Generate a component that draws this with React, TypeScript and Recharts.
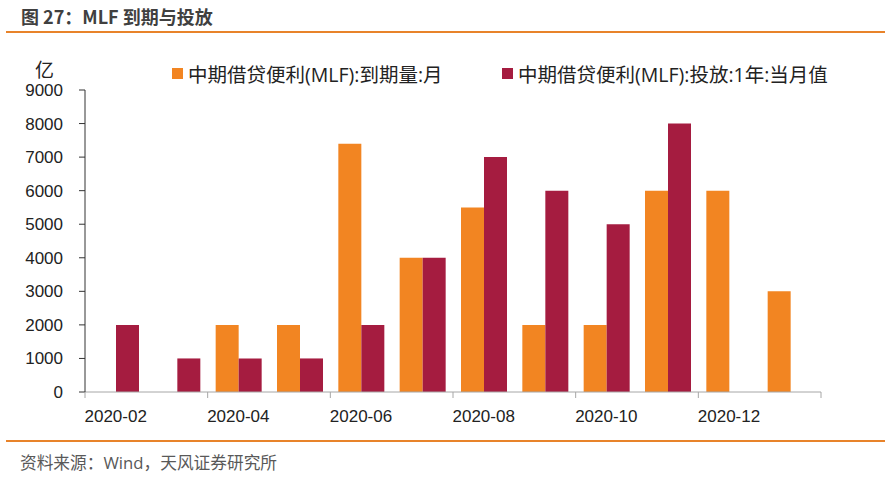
import React from 'react';
import { BarChart, Bar, XAxis, YAxis } from 'recharts';

const categories = ['2020-02','2020-03','2020-04','2020-05','2020-06','2020-07','2020-08','2020-09','2020-10','2020-11','2020-12','2021-01'];
const expiry = [0, 0, 2000, 2000, 7400, 4000, 5500, 2000, 2000, 6000, 6000, 3000];
const issue = [2000, 1000, 1000, 1000, 2000, 4000, 7000, 6000, 5000, 8000, 0, 0];
const yTicks = [0, 1000, 2000, 3000, 4000, 5000, 6000, 7000, 8000, 9000];
const seriesNames = ['中期借贷便利(MLF):到期量:月', '中期借贷便利(MLF):投放:1年:当月值'];

const ORANGE = '#F28522';
const RED = '#A51C40';

const data = categories.map((c, i) => ({ month: c, expiry: expiry[i], issue: issue[i] }));

const PLOT_LEFT = 85;
const PLOT_RIGHT = 821;
const BAND = (PLOT_RIGHT - PLOT_LEFT) / categories.length;
const FONT = '"Liberation Sans", Arial, sans-serif';
const CJK = '"Noto Sans CJK SC", "Liberation Sans", sans-serif';
const MIX = '"Open Sans", "Noto Sans CJK SC", sans-serif';

const XTick = (props: any) => {
  const { x, y, payload } = props;
  const half = BAND / 2;
  const isLast = payload.value === categories[categories.length - 2];
  return (
    <g>
      <line x1={x - half} x2={x - half} y1={y} y2={y + 6} stroke="#a6a6a6" strokeWidth={1} />
      {isLast && (
        <line x1={x + 3 * half} x2={x + 3 * half} y1={y} y2={y + 6} stroke="#a6a6a6" strokeWidth={1} />
      )}
      <text x={x} y={y + 18} dy="0.71em" textAnchor="middle" fontSize={17} fill="#222" fontFamily={FONT}>
        {payload.value}
      </text>
    </g>
  );
};

const LegendItem = ({ left, color, label }: { left: number; color: string; label: string }) => (
  <div style={{ position: 'absolute', left, top: 59, height: 28, display: 'flex', alignItems: 'center', fontFamily: MIX, fontSize: 19.5, color: '#222', whiteSpace: 'nowrap' }}>
    <span style={{ display: 'inline-block', width: 11, height: 11, background: color, marginRight: 5 }} />
    <span>{label}</span>
  </div>
);

export default function App() {
  return (
    <div style={{ position: 'absolute', left: 0, top: 0, width: 891, height: 481, background: '#fff', overflow: 'hidden' }}>
      <div style={{ position: 'absolute', left: 21, top: 3, fontFamily: CJK, fontWeight: 700, fontSize: 18, color: '#404040', whiteSpace: 'nowrap' }}>
        图 27：MLF 到期与投放
      </div>
      <div style={{ position: 'absolute', left: 6, right: 6, top: 31, height: 2, background: '#E8832A' }} />
      <div style={{ position: 'absolute', left: 35, top: 55, fontFamily: CJK, fontSize: 19, color: '#222' }}>亿</div>
      <LegendItem left={172} color={ORANGE} label={seriesNames[0]} />
      <LegendItem left={502} color={RED} label={seriesNames[1]} />
      <div style={{ position: 'absolute', left: 0, top: 0 }}>
        <BarChart
          width={891}
          height={481}
          data={data}
          margin={{ top: 90, right: 891 - PLOT_RIGHT, bottom: 59, left: 0 }}
          barGap={0}
        >
          <XAxis
            dataKey="month"
            interval={1}
            tickLine={false}
            tickSize={0}
            tickMargin={0}
            height={30}
            axisLine={{ stroke: '#a6a6a6', strokeWidth: 1 }}
            tick={<XTick />}
          />
          <YAxis
            width={PLOT_LEFT}
            domain={[0, 9000]}
            ticks={yTicks}
            interval={0}
            tickSize={6}
            tickMargin={16}
            axisLine={{ stroke: '#333', strokeWidth: 1 }}
            tickLine={{ stroke: '#333', strokeWidth: 1 }}
            tick={{ fontSize: 17, fill: '#222', fontFamily: FONT }}
          />
          <Bar dataKey="expiry" name={seriesNames[0]} fill={ORANGE} barSize={23} isAnimationActive={false} />
          <Bar dataKey="issue" name={seriesNames[1]} fill={RED} barSize={23} isAnimationActive={false} />
        </BarChart>
      </div>
      <div style={{ position: 'absolute', left: 6, right: 6, top: 440, height: 2, background: '#E8832A' }} />
      <div style={{ position: 'absolute', left: 20, top: 450, fontFamily: MIX, fontSize: 16.7, color: '#595959', whiteSpace: 'nowrap' }}>
        资料来源：Wind，天风证券研究所
      </div>
    </div>
  );
}
